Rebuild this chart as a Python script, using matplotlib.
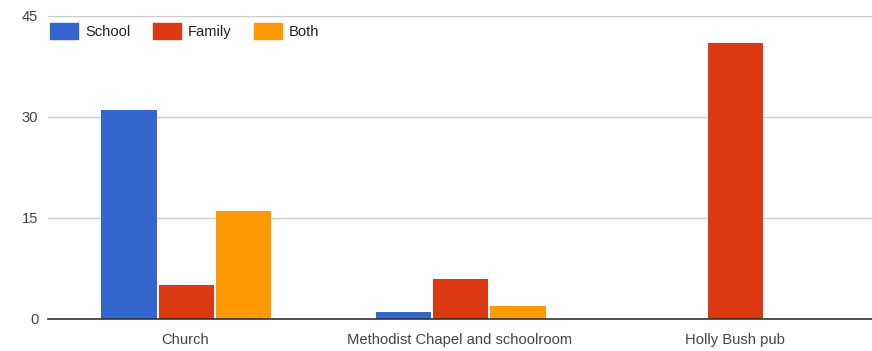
import numpy as np
import matplotlib.pyplot as plt
from matplotlib.patches import Patch

categories = ["Church", "Methodist Chapel and schoolroom", "Holly Bush pub"]
series = ["School", "Family", "Both"]
school = [31, 1, 0]
family = [5, 6, 41]
both = [16, 2, 0]
yticks = [0, 15, 30, 45]

colors = ["#3366cc", "#dc3912", "#ff9900"]

plt.rcParams['font.family'] = ['Liberation Sans', 'DejaVu Sans']

fig = plt.figure(figsize=(8.72, 3.51), dpi=100)
ax = fig.add_axes([48 / 872, 32 / 351, 824 / 872, 303 / 351])

x = np.arange(len(categories))
w = 0.201
for i, (vals, c) in enumerate(zip([school, family, both], colors)):
    ax.bar(x + (i - 1) * (w + 0.007) + 0.003, vals, width=w, color=c, zorder=3)

ax.set_xlim(-0.5, len(categories) - 0.5)
ax.set_ylim(0, 45)
ax.set_yticks(yticks)
ax.set_xticks(x)
ax.set_xticklabels(categories)
ax.tick_params(axis='both', length=0, labelsize=10.6, labelcolor='#444444')
ax.tick_params(axis='x', pad=10)
ax.tick_params(axis='y', pad=7)
ax.grid(axis='y', color='#cccccc', linewidth=1, zorder=0)
for s in ['top', 'right', 'left']:
    ax.spines[s].set_visible(False)
ax.spines['bottom'].set_color('#333333')
ax.spines['bottom'].set_linewidth(1.2)
ax.spines['bottom'].set_zorder(4)

handles = [Patch(color=c, label=s) for s, c in zip(series, colors)]
ax.legend(handles=handles, loc='upper left', bbox_to_anchor=(0.0024, 0.978), ncol=3,
          frameon=False, fontsize=10.6, handlelength=1.9, handleheight=1.3,
          columnspacing=1.5, handletextpad=0.5, borderaxespad=0, borderpad=0,
          labelcolor='#222222')

fig.savefig("out.png", dpi=100)
